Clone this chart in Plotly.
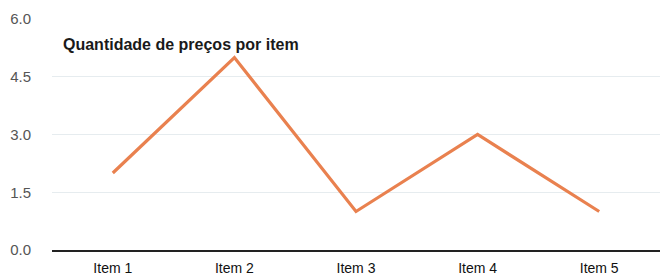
import plotly.graph_objects as go

categories = ["Item 1", "Item 2", "Item 3", "Item 4", "Item 5"]
values = [2, 5, 1, 3, 1]
y_ticks = [0, 1.5, 3.0, 4.5, 6.0]
title_text = "Quantidade de preços por item"

fig = go.Figure()
fig.add_trace(go.Scatter(
    x=categories, y=values, mode="lines",
    line=dict(color="#E9814F", width=3.2),
))

fig.update_layout(
    width=660, height=276,
    margin=dict(l=52, r=0, t=19, b=26, autoexpand=False),
    paper_bgcolor="white", plot_bgcolor="white",
    showlegend=False,
    font=dict(family="Liberation Sans, Arial, sans-serif", size=14, color="#444"),
    annotations=[dict(
        text="<b>" + title_text + "</b>", xref="paper", yref="paper",
        x=0.015, y=0.888, xanchor="left", yanchor="middle", showarrow=False,
        font=dict(size=16, color="#1a1a1a"),
    )],
)
fig.update_xaxes(
    type="category", range=[-0.5, 4.5], showgrid=False, automargin=False,
    showline=True, linecolor="#222", linewidth=1.5,
    tickfont=dict(size=14, color="#111"), ticks="", ticklabelstandoff=4,
)
fig.update_yaxes(
    range=[0, 6], tickvals=y_ticks, ticktext=["0.0", "1.5", "3.0", "4.5", "6.0"],
    showgrid=True, gridcolor="#e6ecef", gridwidth=1, zeroline=False, automargin=False,
    tickfont=dict(size=15, color="#555"), ticklabelstandoff=20,
)

fig.write_html(
    "out.html",
    config={"displayModeBar": False},
    post_script="document.body.style.margin='0';document.body.style.overflow='hidden';",
)
